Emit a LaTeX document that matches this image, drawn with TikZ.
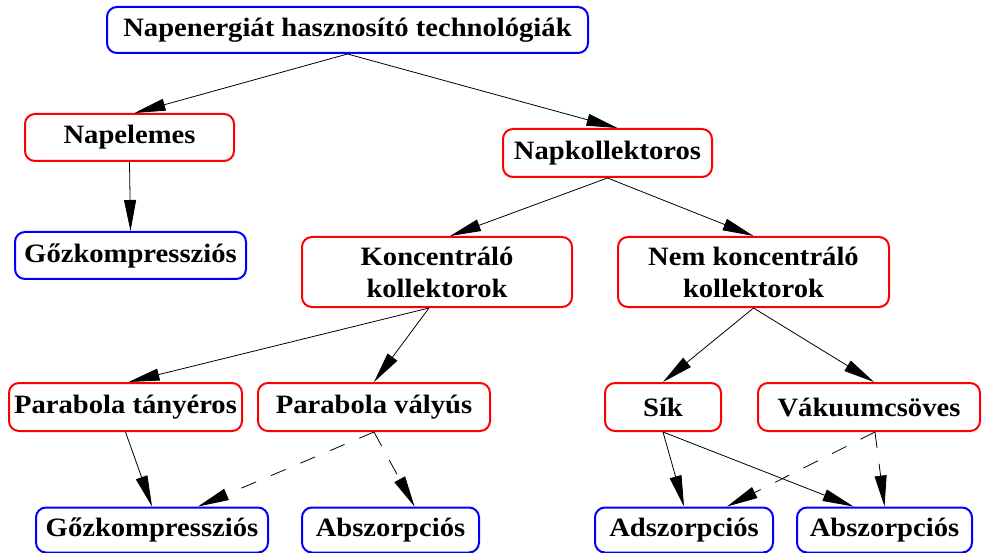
\documentclass[tikz,border=0pt]{standalone}
\usepackage{fontspec}
\setmainfont{Liberation Serif}[FakeStretch=1.08]
\usetikzlibrary{arrows.meta}
\tikzset{
  box/.style={rectangle, rounded corners=10pt, line width=2pt, fill=white,
    inner sep=0pt, align=center, font=\fontsize{26.5}{32}\selectfont\bfseries},
  redbox/.style={box, draw=red},
  bluebox/.style={box, draw=blue},
  edge/.style={line width=0.8pt, draw=black, -{Triangle[length=31pt,width=12pt]}},
  dedge/.style={edge, dash pattern=on 16pt off 16pt},
}
\begin{document}
\begin{tikzpicture}[x=1pt,y=-1pt]
\useasboundingbox (0,0) rectangle (982,553);
% row 0
\node[bluebox, minimum width=481pt, minimum height=46pt] (top) at (347.5,30) {Napenergiát hasznosító technológiák};
% row 1
\node[redbox, minimum width=209pt, minimum height=47pt] (napel) at (129.5,137.5) {Napelemes};
\node[redbox, minimum width=209pt, minimum height=48pt] (napkoll) at (607.5,153) {Napkollektoros};
% row 2
\node[bluebox, minimum width=231pt, minimum height=47pt] (gozA) at (130.5,255.5) {Gőzkompressziós};
\node[redbox, minimum width=270pt, minimum height=70pt] (konc) at (437,272) {Koncentráló\\kollektorok};
\node[redbox, minimum width=271pt, minimum height=70pt] (nem) at (753.5,272) {Nem koncentráló\\kollektorok};
% row 3
\node[redbox, minimum width=233pt, minimum height=48pt] (tany) at (125.5,407) {Parabola tányéros};
\node[redbox, minimum width=232pt, minimum height=48pt] (valy) at (374,407) {Parabola vályús};
\node[redbox, minimum width=116pt, minimum height=48pt] (sik) at (663,407) {Sík};
\node[redbox, minimum width=222pt, minimum height=48pt] (vaku) at (869,407) {Vákuumcsöves};
% row 4
\node[bluebox, minimum width=232pt, minimum height=45pt] (gozB) at (152,530) {Gőzkompressziós};
\node[bluebox, minimum width=177pt, minimum height=45pt] (abszA) at (390.5,530) {Abszorpciós};
\node[bluebox, minimum width=178pt, minimum height=45pt] (adsz) at (684,530) {Adszorpciós};
\node[bluebox, minimum width=175pt, minimum height=45pt] (abszB) at (884.5,530) {Abszorpciós};
% edges
\draw[edge] (top.south) -- ([xshift=5pt]napel.north);
\draw[edge] (top.south) -- ([xshift=10pt]napkoll.north);
\draw[edge] (napel.south) -- (gozA.north);
\draw[edge] (napkoll.south) -- ([xshift=13pt]konc.north);
\draw[edge] (napkoll.south) -- (nem.north);
\draw[edge] ([xshift=-8pt]konc.south) -- ([xshift=3pt]tany.north);
\draw[edge] ([xshift=-8pt]konc.south) -- (valy.north);
\draw[edge] (nem.south) -- (sik.north);
\draw[edge] (nem.south) -- ([xshift=5pt]vaku.north);
\draw[edge] (tany.south) -- (gozB.north);
\draw[dedge] (valy.south) -- ([xshift=46pt]gozB.north);
\draw[dedge] (valy.south) -- ([xshift=24pt]abszA.north);
\draw[edge] (sik.south) -- (adsz.north);
\draw[edge] (sik.south) -- ([xshift=-31pt]abszB.north);
\draw[dedge] ([xshift=6pt]vaku.south) -- ([xshift=43pt]adsz.north);
\draw[dedge] ([xshift=6pt]vaku.south) -- (abszB.north);
\end{tikzpicture}
\end{document}
